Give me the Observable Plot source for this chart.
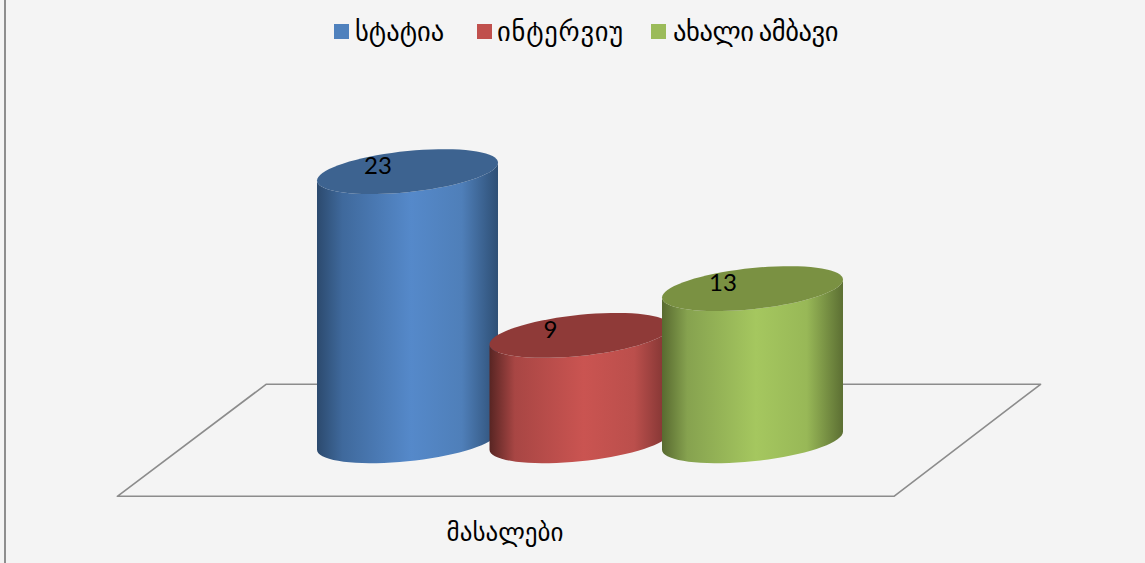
<!DOCTYPE html>
<html><head><meta charset="utf-8">
<script src="https://cdn.jsdelivr.net/npm/d3@7"></script>
<script src="https://cdn.jsdelivr.net/npm/@observablehq/plot@0.6"></script>
<style>
html,body{margin:0;padding:0;background:#f4f4f4;overflow:hidden;width:1145px;height:563px}
#wrap{position:relative;width:1145px;height:563px}
#edge{position:absolute;left:4px;top:0;bottom:0;width:2px;background:#8e8e8e;z-index:2}
#legend{position:relative;height:60px}
.item{position:absolute;top:0;height:60px;font:26.5px "DejaVu Sans",sans-serif;color:#000}
.sw{position:absolute;left:0;top:24px;width:15px;height:15px}
.lb{position:absolute;left:21px;top:18px;white-space:nowrap;line-height:28px}
#legend .item:nth-child(2) .lb{letter-spacing:.8px;left:20px}
#legend .item:nth-child(3) .lb{letter-spacing:-.4px;word-spacing:-3px;left:22px}
svg{display:block}
</style></head><body>
<div id="wrap"><div id="edge"></div><div id="legend"></div><div id="chart"></div></div>
<script>
const series = ["სტატია", "ინტერვიუ", "ახალი ამბავი"];
const values = [23, 9, 13];
const category = "მასალები";
const sideColors = [
  ["#2c4a6e","#3f699c","#5589ca","#4f7fb9","#2e4f75"],
  ["#582523","#a84644","#ca5451","#bb4f4c","#7a3230"],
  ["#586a30","#86a24f","#a5c75f","#98b857","#5c6f33"]
];
const topColors = ["#3d6390","#8f3a38","#7a9142"];
const legendColors = ["#4f81bd","#c0504d","#9bbb59"];
const legendLeft = [334, 477, 651];

const legend = document.getElementById("legend");
series.forEach((s,i)=>{
  const d=document.createElement("div");d.className="item";d.style.left=legendLeft[i]+"px";
  d.innerHTML=`<div class="sw" style="background:${legendColors[i]}"></div><div class="lb">${s}</div>`;
  legend.appendChild(d);
});

// cylinder geometry in scale units
const rx = 0.5246, tilt = 0.77, depth = 1.76;
const angles = d3.range(0, 73).map(k => k * Math.PI / 36);
const rimPoint = (i, v, t) => ({x: i + rx*Math.cos(t), y: v + tilt*Math.cos(t) - depth*Math.sin(t)});
const topShape = (i, v) => angles.map(t => rimPoint(i, v, t));

function bodyOutline(i, v){
  const front = angles.filter(t => t <= Math.PI + 1e-6);
  return [
    ...front.map(t => rimPoint(i, 0, t)),
    ...front.slice().reverse().map(t => rimPoint(i, v, t))
  ];
}

const defs = () => {
  const d = d3.create("svg:defs");
  sideColors.forEach((c,i)=>{
    const g=d.append("linearGradient").attr("id","g"+i).attr("x1",0).attr("x2",1).attr("y1",0).attr("y2",0);
    [0,0.14,0.52,0.8,1].forEach((o,k)=>g.append("stop").attr("offset",o).attr("stop-color",c[k]));
  });
  return d.node();
};

const floor = [[-1.682,-4.75],[-0.82,4.82],[3.67,4.82],[2.82,-4.75],[-1.682,-4.75]];

const cylinders = values.flatMap((v,i)=>[
  Plot.line(bodyOutline(i,v),{x:"x",y:"y",fill:`url(#g${i})`,stroke:"none",curve:"linear"}),
  Plot.line(topShape(i,v),{x:"x",y:"y",fill:topColors[i],stroke:"none",curve:"linear"})
]);

const chart = Plot.plot({
  width:1145,height:503,margin:0,
  style:{background:"#f4f4f4",overflow:"visible"},
  x:{domain:[-407/172.5,(1145-407)/172.5],range:[0,1145],axis:null},
  y:{domain:[380.2/11.7,(380.2-503)/11.7],range:[0,503],axis:null},
  marks:[
    defs,
    Plot.line(floor,{x:d=>d[0],y:d=>d[1],stroke:"#8c8c8c",strokeWidth:1.6,curve:"linear"}),
    ...cylinders,
    Plot.text(values,{x:(d,i)=>i,y:d=>d,text:d=>String(d),dx:-29.5,dy:-5,fontSize:24,fontFamily:"Lato, 'Open Sans', sans-serif",fill:"#000"}),
    Plot.text([category],{x:[0.565],y:[-7.85],text:d=>d,fontSize:25,fontFamily:"'DejaVu Sans',sans-serif",fill:"#000"})
  ]
});
document.getElementById("chart").appendChild(chart);
</script>
</body></html>
